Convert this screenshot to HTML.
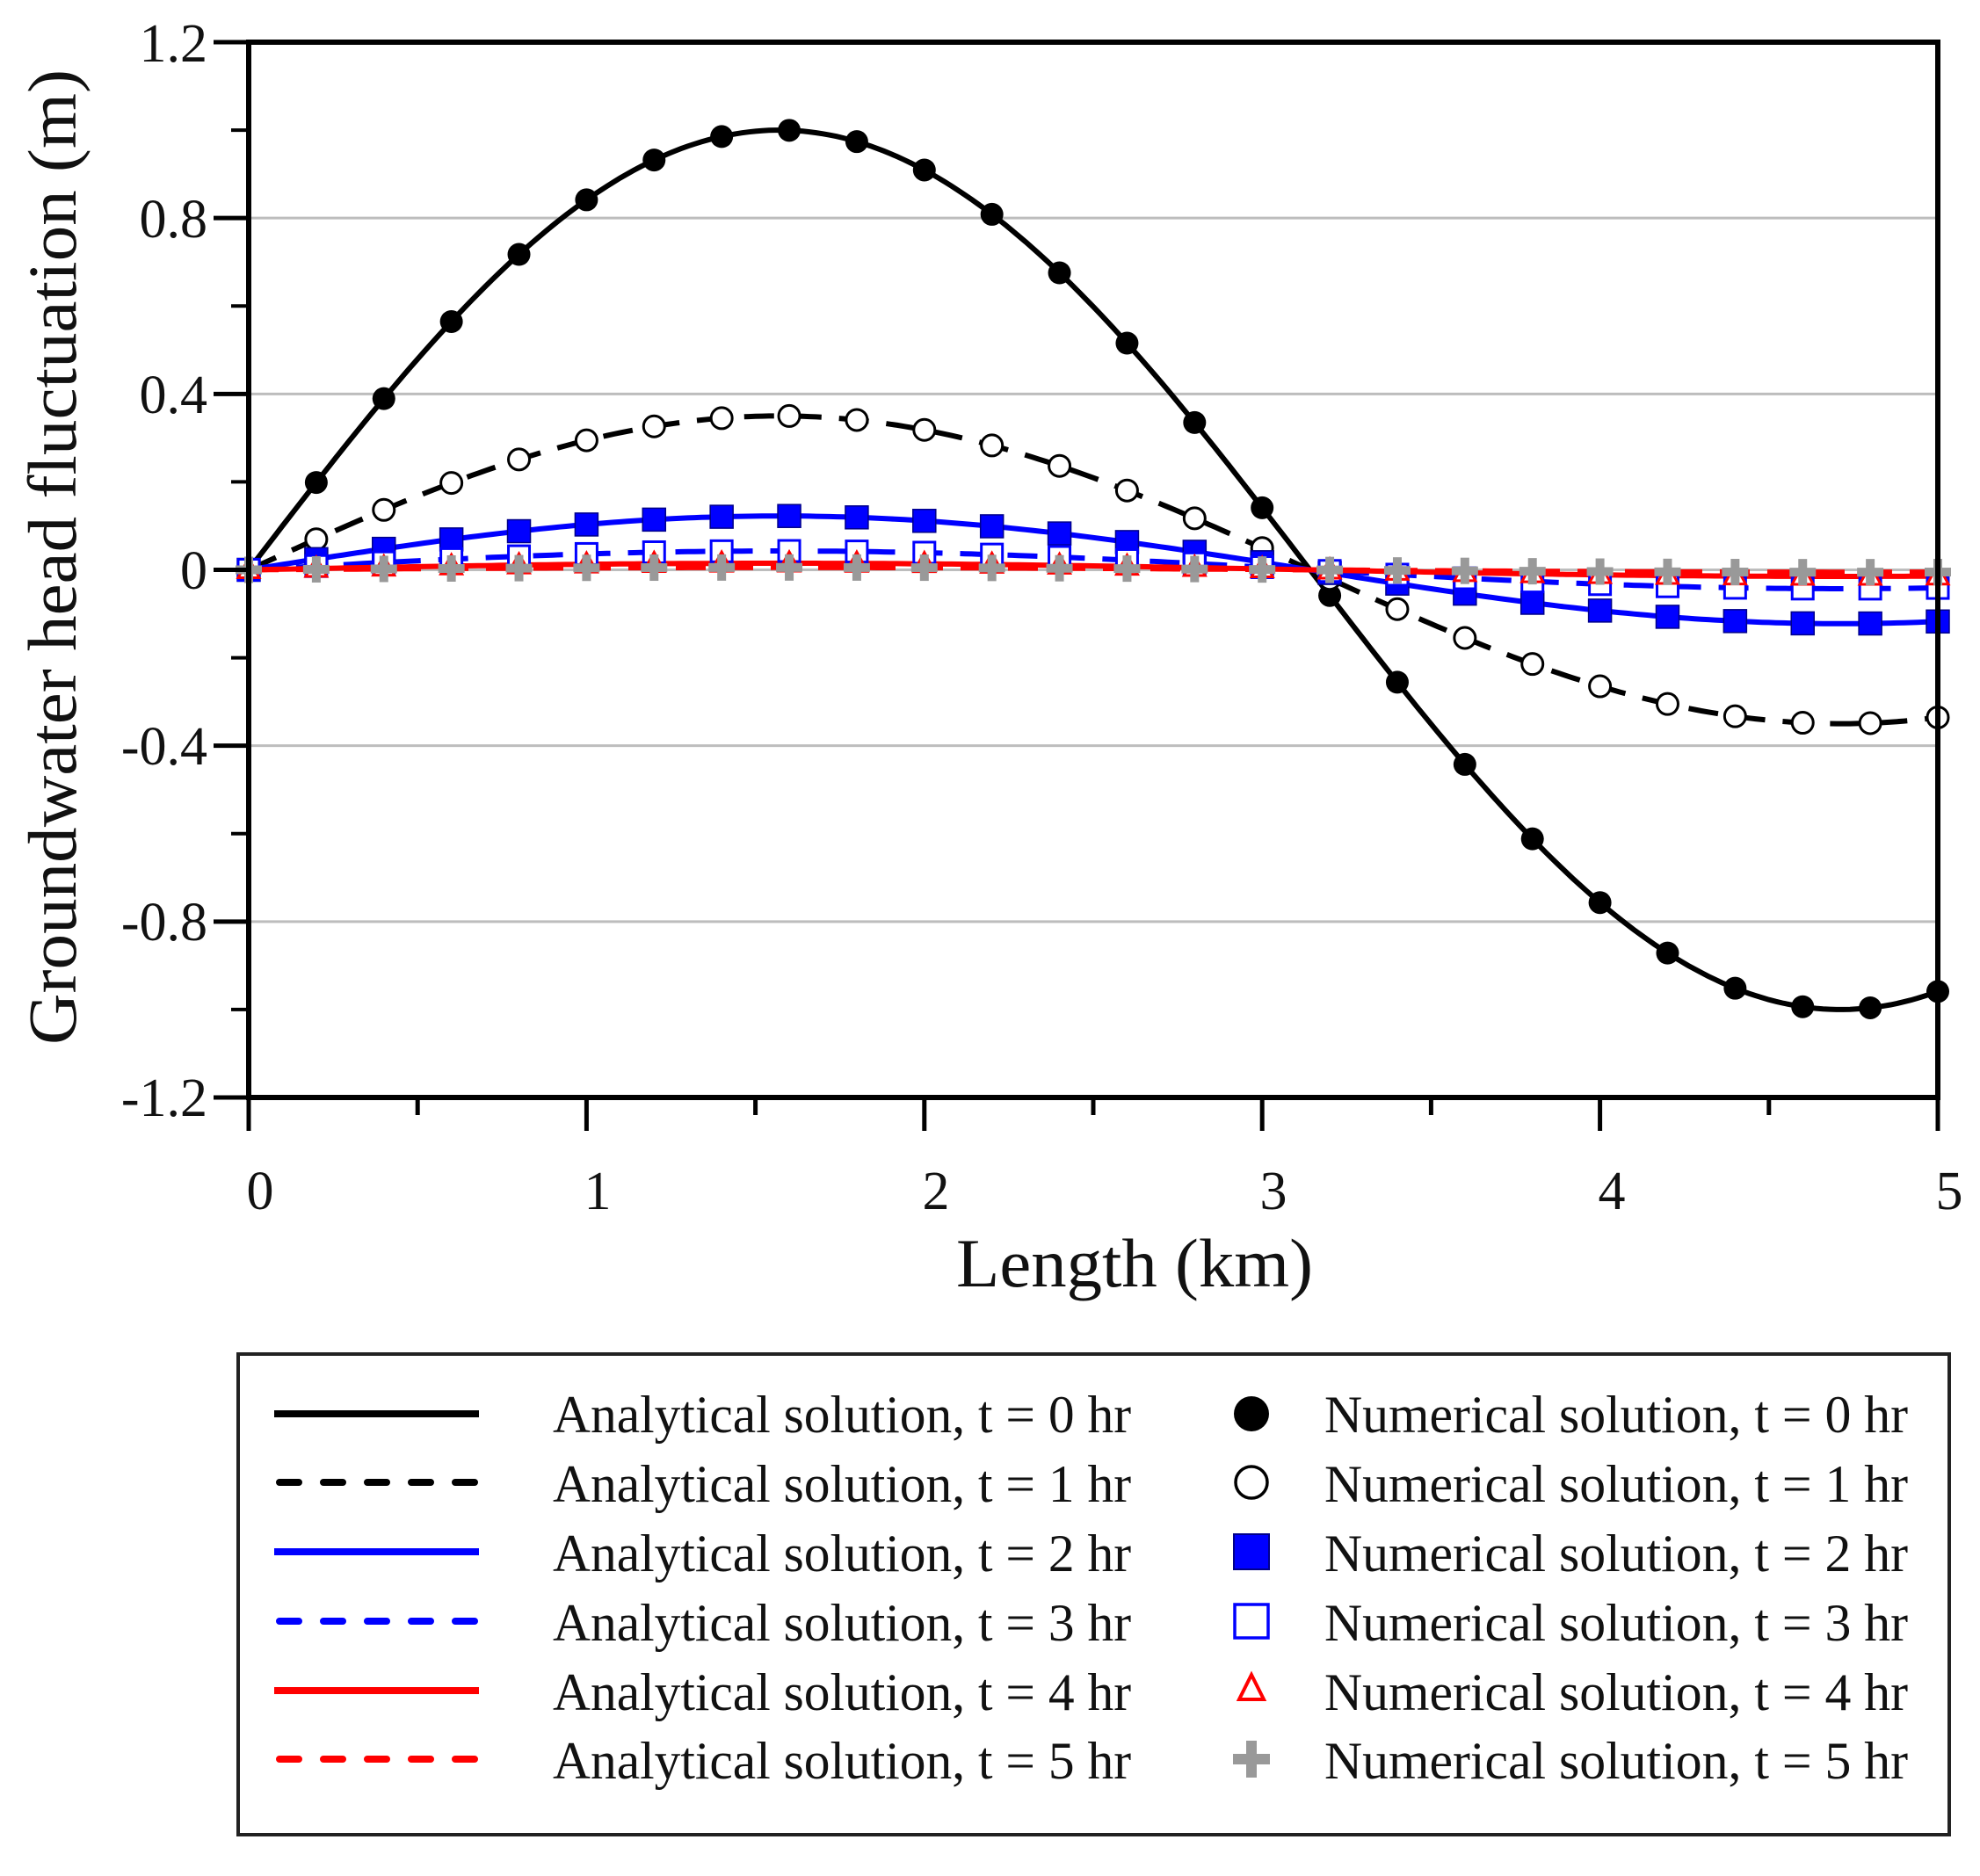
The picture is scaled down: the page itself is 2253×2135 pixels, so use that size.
<!DOCTYPE html>
<html><head><meta charset="utf-8"><style>
html,body{margin:0;padding:0;background:#fff;}
svg{display:block;}
text{font-family:"Liberation Serif",serif;fill:#111;}
</style></head><body>
<svg id="s" width="2253" height="2135" viewBox="0 0 2253 2135" xmlns="http://www.w3.org/2000/svg">
<g id="grid" stroke="#bdbdbd" stroke-width="3"></g>
<g id="series"></g>
<g id="axes" stroke="#000" fill="none"></g>
<g font-size="62" text-anchor="end">
<text x="236" y="70">1.2</text>
<text x="236" y="270">0.8</text>
<text x="236" y="470">0.4</text>
<text x="236" y="670">0</text>
<text x="236" y="870">-0.4</text>
<text x="236" y="1070">-0.8</text>
<text x="236" y="1270">-1.2</text>
</g>
<g font-size="62" text-anchor="middle">
<text x="296" y="1376">0</text>
<text x="680" y="1376">1</text>
<text x="1065" y="1376">2</text>
<text x="1449" y="1376">3</text>
<text x="1834" y="1376">4</text>
<text x="2218" y="1376">5</text>
</g>
<text x="1291" y="1464" font-size="78" text-anchor="middle" textLength="406" lengthAdjust="spacingAndGlyphs">Length (km)</text>
<text transform="translate(86,634) rotate(-90)" font-size="78" text-anchor="middle" textLength="1110" lengthAdjust="spacingAndGlyphs">Groundwater head fluctuation (m)</text>
<rect x="271" y="1541" width="1947" height="547" fill="none" stroke="#222" stroke-width="4"/>
<g id="leg"></g>
<g font-size="60">
<text x="629" y="1630" textLength="658" lengthAdjust="spacingAndGlyphs">Analytical solution, t = 0 hr</text>
<text x="629" y="1709" textLength="658" lengthAdjust="spacingAndGlyphs">Analytical solution, t = 1 hr</text>
<text x="629" y="1788" textLength="658" lengthAdjust="spacingAndGlyphs">Analytical solution, t = 2 hr</text>
<text x="629" y="1867" textLength="658" lengthAdjust="spacingAndGlyphs">Analytical solution, t = 3 hr</text>
<text x="629" y="1946" textLength="658" lengthAdjust="spacingAndGlyphs">Analytical solution, t = 4 hr</text>
<text x="629" y="2024" textLength="658" lengthAdjust="spacingAndGlyphs">Analytical solution, t = 5 hr</text>
<text x="1507" y="1630" textLength="664" lengthAdjust="spacingAndGlyphs">Numerical solution, t = 0 hr</text>
<text x="1507" y="1709" textLength="664" lengthAdjust="spacingAndGlyphs">Numerical solution, t = 1 hr</text>
<text x="1507" y="1788" textLength="664" lengthAdjust="spacingAndGlyphs">Numerical solution, t = 2 hr</text>
<text x="1507" y="1867" textLength="664" lengthAdjust="spacingAndGlyphs">Numerical solution, t = 3 hr</text>
<text x="1507" y="1946" textLength="664" lengthAdjust="spacingAndGlyphs">Numerical solution, t = 4 hr</text>
<text x="1507" y="2024" textLength="664" lengthAdjust="spacingAndGlyphs">Numerical solution, t = 5 hr</text>
</g>
</svg>
<script>
(function(){
var NS="http://www.w3.org/2000/svg";
function el(p,t,a){var e=document.createElementNS(NS,t);for(var k in a)e.setAttribute(k,a[k]);p.appendChild(e);return e;}
var X0=283,X1=2205,Y0=648.5,SY=500.4;
function px(x){return X0+(X1-X0)*x/5;}
function py(y){return Y0-y*SY;}
var grid=document.getElementById('grid');
[0.8,0.4,0,-0.4,-0.8].forEach(function(v){el(grid,'line',{x1:X0,x2:X1,y1:py(v),y2:py(v)});});
var ser=document.getElementById('series');
var amps=[1,0.35,0.1225,0.0429,0.015,0.0053];
var cols=['#000','#000','#0000ff','#0000ff','#ff0000','#ff0000'];
var dash=[null,'34 20',null,'34 20',null,'34 20'];
for(var i=0;i<6;i++){
 var d='';for(var k=0;k<=250;k++){var x=5*k/250;d+=(k?'L':'M')+px(x).toFixed(1)+','+py(amps[i]*Math.sin(x)).toFixed(1);}
 var a={d:d,fill:'none',stroke:cols[i],'stroke-width':6};if(dash[i])a['stroke-dasharray']=dash[i];
 el(ser,'path',a);
}
function marker(g,type,cx,cy){
 if(type==0)el(g,'circle',{cx:cx,cy:cy,r:13,fill:'#000'});
 else if(type==1)el(g,'circle',{cx:cx,cy:cy,r:12,fill:'#fff',stroke:'#000','stroke-width':3});
 else if(type==2)el(g,'rect',{x:cx-13,y:cy-13,width:26,height:26,fill:'#0000ff',stroke:'#00008a','stroke-width':1.5});
 else if(type==3)el(g,'rect',{x:cx-12,y:cy-12,width:24,height:24,fill:'#fff',stroke:'#0000ff','stroke-width':3});
 else if(type==4)el(g,'path',{d:'M'+cx+','+(cy-13)+'L'+(cx+12)+','+(cy+9)+'L'+(cx-12)+','+(cy+9)+'Z',fill:'#fff',stroke:'#ff0000','stroke-width':3});
 else {el(g,'rect',{x:cx-15,y:cy-5,width:30,height:10,fill:'#999'});el(g,'rect',{x:cx-5,y:cy-15,width:10,height:30,fill:'#999'});}
}
for(var i=0;i<6;i++){
 for(var k=0;k<=25;k++){var x=k*0.2;marker(ser,i,px(x),py(amps[i]*Math.sin(x)));}
}
var ax=document.getElementById('axes');
el(ax,'rect',{x:X0,y:48,width:X1-X0,height:1249-48,'stroke-width':6});
for(var v=-1.2;v<=1.21;v+=0.2){var major=Math.abs(Math.round(v*10))%4==0;var y=py(v);
 el(ax,'line',{x1:X0-(major?40:20),x2:X0,y1:y,y2:y,'stroke-width':major?5:4});}
for(var x=0;x<=5.01;x+=0.5){var major=Math.abs(x-Math.round(x))<0.01;var xx=px(x);
 el(ax,'line',{x1:xx,x2:xx,y1:1249,y2:1249+(major?38:20),'stroke-width':5});}
var leg=document.getElementById('leg');
var ly=[1609,1687,1766,1845,1924,2002];
for(var i=0;i<6;i++){
 var a={x1:312,x2:545,y1:ly[i],y2:ly[i],stroke:cols[i],'stroke-width':8};
 if(dash[i]){a['stroke-dasharray']='22 28';a['stroke-linecap']='round';a.x1=318;a.x2=540;}
 el(leg,'line',a);
 if(i==0)el(leg,'circle',{cx:1424,cy:ly[i],r:20,fill:'#000'});
 else if(i==1)el(leg,'circle',{cx:1424,cy:ly[i],r:18,fill:'#fff',stroke:'#000','stroke-width':3.5});
 else if(i==2)el(leg,'rect',{x:1404,y:ly[i]-20,width:40,height:40,fill:'#0000ff',stroke:'#00008a','stroke-width':2});
 else if(i==3)el(leg,'rect',{x:1405,y:ly[i]-19,width:38,height:38,fill:'#fff',stroke:'#0000ff','stroke-width':3.5});
 else if(i==4)el(leg,'path',{d:'M1424,'+(ly[i]-18)+'L1438,'+(ly[i]+10)+'L1410,'+(ly[i]+10)+'Z',fill:'#fff',stroke:'#ff0000','stroke-width':4});
 else {el(leg,'rect',{x:1403,y:ly[i]-6,width:42,height:12,fill:'#999'});el(leg,'rect',{x:1418,y:ly[i]-21,width:12,height:42,fill:'#999'});}
}
})();
</script>
</body></html>
